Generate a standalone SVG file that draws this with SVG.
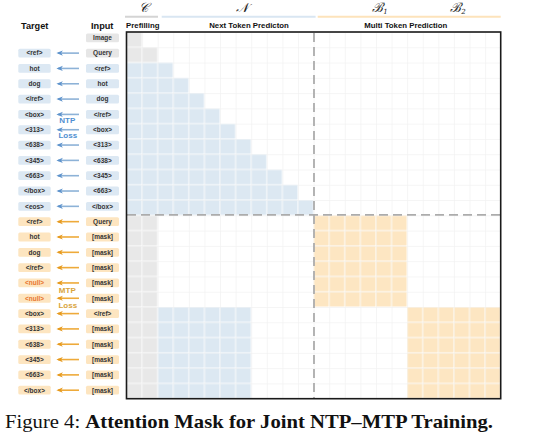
<svg xmlns="http://www.w3.org/2000/svg" width="558" height="440" viewBox="0 0 558 440">
<style>
.hd{font-family:"Liberation Sans",Arial,sans-serif;font-weight:bold;font-size:9.2px;fill:#111;text-anchor:middle}
.sec{font-family:"Liberation Sans",Arial,sans-serif;font-weight:bold;font-size:7.8px;fill:#111;text-anchor:middle}
.math{font-family:"DejaVu Serif","Liberation Serif",serif;font-style:italic;font-size:13px;fill:#222;text-anchor:middle}
.lb{font-family:"Liberation Sans",Arial,sans-serif;font-weight:bold;font-size:6.5px;fill:#333;text-anchor:middle}
.nul{fill:#e8772e}
.bb{fill:#dce8f3}
.gb{fill:#e6e6e6}
.ob{fill:#fde5c0}
.ntp{font-family:"Liberation Sans",Arial,sans-serif;font-weight:bold;font-size:8px;fill:#4f8fd1;text-anchor:middle}
.mtp{font-family:"Liberation Sans",Arial,sans-serif;font-weight:bold;font-size:8px;fill:#d9a43c;text-anchor:middle}
.ab{stroke:#8db2d7;stroke-width:1.6;fill:none}
.ao{stroke:#eeaa3a;stroke-width:1.6;fill:none}
.dash{stroke:#acacac;stroke-width:1.8;stroke-dasharray:9 5;fill:none}
.cap{font-family:"Liberation Serif","Times New Roman",serif;font-size:19.5px;fill:#111}
</style>
<defs>
<pattern id="pg" patternUnits="userSpaceOnUse" x="126.5" y="32" width="15.592" height="15.279">
<path d="M0,0.3H15.592M0.3,0V15.279" stroke="#f1f1f1" stroke-width="0.8" fill="none"/>
</pattern>
<pattern id="pBlue" patternUnits="userSpaceOnUse" x="126.5" y="32" width="15.592" height="15.279">
<rect x="0.5" y="0.5" width="14.592" height="14.279" fill="#dce8f2"/>
</pattern>
<pattern id="pGray" patternUnits="userSpaceOnUse" x="126.5" y="32" width="15.592" height="15.279">
<rect x="0.5" y="0.5" width="14.592" height="14.279" fill="#e8e8e8"/>
</pattern>
<pattern id="pOr" patternUnits="userSpaceOnUse" x="126.5" y="32" width="15.592" height="15.279">
<rect x="0.5" y="0.5" width="14.592" height="14.279" fill="#fde6c2"/>
</pattern>
<marker id="mb" viewBox="0 0 8 8" refX="6" refY="4" markerWidth="6.5" markerHeight="6.5" markerUnits="userSpaceOnUse" orient="auto">
<path d="M0,0.8 L8,4 L0,7.2 L2.2,4 Z" fill="#5e93cc"/>
</marker>
<marker id="mo" viewBox="0 0 8 8" refX="6" refY="4" markerWidth="6.5" markerHeight="6.5" markerUnits="userSpaceOnUse" orient="auto">
<path d="M0,0.8 L8,4 L0,7.2 L2.2,4 Z" fill="#e69a1e"/>
</marker>
</defs>
<rect width="558" height="440" fill="#fff"/>

<g id="headers">
<text class="math" x="143" y="12">𝒞</text>
<text class="math" x="241.5" y="12">𝒩</text>
<text class="math" x="380" y="12">ℬ<tspan font-size="7" dy="2">1</tspan></text>
<text class="math" x="458" y="12">ℬ<tspan font-size="7" dy="2">2</tspan></text>
<line x1="125" y1="16.7" x2="158" y2="16.7" stroke="#d4d4d4" stroke-width="2"/>
<line x1="161.7" y1="16.7" x2="315.6" y2="16.7" stroke="#d9e6f2" stroke-width="2"/>
<line x1="317.7" y1="16.7" x2="500.7" y2="16.7" stroke="#fde3bb" stroke-width="2"/>
<text class="hd" x="34.7" y="28.7">Target</text>
<text class="hd" x="102.2" y="28.7">Input</text>
<text class="sec" x="142.8" y="28.3">Prefilling</text>
<text class="sec" x="249" y="28.3">Next Token Predicton</text>
<text class="sec" x="405.8" y="28.3">Multi Token Prediction</text>
</g>

<g id="matrix">
<rect x="126.5" y="32" width="374.2" height="366.7" fill="url(#pg)"/>
<path d="M126.5,32H142.09V47.28H157.68V62.56H126.5Z" fill="url(#pGray)"/>
<path d="M126.5,62.56H173.28V77.84H188.87V93.12H204.46V108.40H220.05V123.67H235.64V138.95H251.24V154.23H266.83V169.51H282.42V184.79H298.01V200.07H313.60V215.35H126.5Z" fill="url(#pBlue)"/>
<rect x="126.5" y="215.35" width="31.18" height="183.35" fill="url(#pGray)"/>
<rect x="313.6" y="215.35" width="93.56" height="91.67" fill="url(#pOr)"/>
<rect x="157.68" y="307.02" width="93.56" height="91.68" fill="url(#pBlue)"/>
<rect x="407.16" y="307.02" width="93.55" height="91.68" fill="url(#pOr)"/>
<line class="dash" x1="314" y1="33" x2="314" y2="398"/>
<line class="dash" x1="127" y1="214.8" x2="500" y2="214.8"/>
<rect x="126.5" y="32" width="374.2" height="366.7" fill="none" stroke="#1a1a1a" stroke-width="1.6"/>
</g>

<g id="connectors">
<line class="ab" x1="79" y1="53.12" x2="58" y2="53.12" marker-end="url(#mb)"/>
<line class="ab" x1="79" y1="68.44" x2="58" y2="68.44" marker-end="url(#mb)"/>
<line class="ab" x1="79" y1="83.77" x2="58" y2="83.77" marker-end="url(#mb)"/>
<line class="ab" x1="79" y1="99.09" x2="58" y2="99.09" marker-end="url(#mb)"/>
<line class="ab" x1="79" y1="114.41" x2="58" y2="114.41" marker-end="url(#mb)"/>
<line class="ab" x1="79" y1="129.73" x2="58" y2="129.73" marker-end="url(#mb)"/>
<line class="ab" x1="79" y1="145.05" x2="58" y2="145.05" marker-end="url(#mb)"/>
<line class="ab" x1="79" y1="160.38" x2="58" y2="160.38" marker-end="url(#mb)"/>
<line class="ab" x1="79" y1="175.70" x2="58" y2="175.70" marker-end="url(#mb)"/>
<line class="ab" x1="79" y1="191.02" x2="58" y2="191.02" marker-end="url(#mb)"/>
<line class="ab" x1="79" y1="206.34" x2="58" y2="206.34" marker-end="url(#mb)"/>
<line class="ao" x1="79" y1="221.66" x2="58" y2="221.66" marker-end="url(#mo)"/>
<line class="ao" x1="79" y1="236.99" x2="58" y2="236.99" marker-end="url(#mo)"/>
<line class="ao" x1="79" y1="252.31" x2="58" y2="252.31" marker-end="url(#mo)"/>
<line class="ao" x1="79" y1="267.63" x2="58" y2="267.63" marker-end="url(#mo)"/>
<line class="ao" x1="79" y1="282.95" x2="58" y2="282.95" marker-end="url(#mo)"/>
<line class="ao" x1="79" y1="298.27" x2="58" y2="298.27" marker-end="url(#mo)"/>
<line class="ao" x1="79" y1="313.60" x2="58" y2="313.60" marker-end="url(#mo)"/>
<line class="ao" x1="79" y1="328.92" x2="58" y2="328.92" marker-end="url(#mo)"/>
<line class="ao" x1="79" y1="344.24" x2="58" y2="344.24" marker-end="url(#mo)"/>
<line class="ao" x1="79" y1="359.56" x2="58" y2="359.56" marker-end="url(#mo)"/>
<line class="ao" x1="79" y1="374.88" x2="58" y2="374.88" marker-end="url(#mo)"/>
<line class="ao" x1="79" y1="390.21" x2="58" y2="390.21" marker-end="url(#mo)"/>
<text class="ntp" x="67.3" y="123.3">NTP</text>
<text class="ntp" x="67.8" y="138.3">Loss</text>
<text class="mtp" x="67.3" y="292.7">MTP</text>
<text class="mtp" x="67.8" y="307.5">Loss</text>
</g>

<g id="inputs">
<g id="in0" transform="translate(102.5,37.80)"><rect class="gb" x="-16.5" y="-4.4" width="33" height="8.8" rx="1.5"/><text class="lb" y="2.3">Image</text></g>
<g id="in1" transform="translate(102.5,53.12)"><rect class="gb" x="-16.5" y="-4.4" width="33" height="8.8" rx="1.5"/><text class="lb" y="2.3">Query</text></g>
<g id="in2" transform="translate(102.5,68.44)"><rect class="bb" x="-16.5" y="-4.4" width="33" height="8.8" rx="1.5"/><text class="lb" y="2.3">&lt;ref&gt;</text></g>
<g id="in3" transform="translate(102.5,83.77)"><rect class="bb" x="-16.5" y="-4.4" width="33" height="8.8" rx="1.5"/><text class="lb" y="2.3">hot</text></g>
<g id="in4" transform="translate(102.5,99.09)"><rect class="bb" x="-16.5" y="-4.4" width="33" height="8.8" rx="1.5"/><text class="lb" y="2.3">dog</text></g>
<g id="in5" transform="translate(102.5,114.41)"><rect class="bb" x="-16.5" y="-4.4" width="33" height="8.8" rx="1.5"/><text class="lb" y="2.3">&lt;/ref&gt;</text></g>
<g id="in6" transform="translate(102.5,129.73)"><rect class="bb" x="-16.5" y="-4.4" width="33" height="8.8" rx="1.5"/><text class="lb" y="2.3">&lt;box&gt;</text></g>
<g id="in7" transform="translate(102.5,145.05)"><rect class="bb" x="-16.5" y="-4.4" width="33" height="8.8" rx="1.5"/><text class="lb" y="2.3">&lt;313&gt;</text></g>
<g id="in8" transform="translate(102.5,160.38)"><rect class="bb" x="-16.5" y="-4.4" width="33" height="8.8" rx="1.5"/><text class="lb" y="2.3">&lt;638&gt;</text></g>
<g id="in9" transform="translate(102.5,175.70)"><rect class="bb" x="-16.5" y="-4.4" width="33" height="8.8" rx="1.5"/><text class="lb" y="2.3">&lt;345&gt;</text></g>
<g id="in10" transform="translate(102.5,191.02)"><rect class="bb" x="-16.5" y="-4.4" width="33" height="8.8" rx="1.5"/><text class="lb" y="2.3">&lt;663&gt;</text></g>
<g id="in11" transform="translate(102.5,206.34)"><rect class="bb" x="-16.5" y="-4.4" width="33" height="8.8" rx="1.5"/><text class="lb" y="2.3">&lt;/box&gt;</text></g>
<g id="in12" transform="translate(102.5,221.66)"><rect class="ob" x="-16.5" y="-4.4" width="33" height="8.8" rx="1.5"/><text class="lb" y="2.3">Query</text></g>
<g id="in13" transform="translate(102.5,236.99)"><rect class="ob" x="-16.5" y="-4.4" width="33" height="8.8" rx="1.5"/><text class="lb" y="2.3">[mask]</text></g>
<g id="in14" transform="translate(102.5,252.31)"><rect class="ob" x="-16.5" y="-4.4" width="33" height="8.8" rx="1.5"/><text class="lb" y="2.3">[mask]</text></g>
<g id="in15" transform="translate(102.5,267.63)"><rect class="ob" x="-16.5" y="-4.4" width="33" height="8.8" rx="1.5"/><text class="lb" y="2.3">[mask]</text></g>
<g id="in16" transform="translate(102.5,282.95)"><rect class="ob" x="-16.5" y="-4.4" width="33" height="8.8" rx="1.5"/><text class="lb" y="2.3">[mask]</text></g>
<g id="in17" transform="translate(102.5,298.27)"><rect class="ob" x="-16.5" y="-4.4" width="33" height="8.8" rx="1.5"/><text class="lb" y="2.3">[mask]</text></g>
<g id="in18" transform="translate(102.5,313.60)"><rect class="ob" x="-16.5" y="-4.4" width="33" height="8.8" rx="1.5"/><text class="lb" y="2.3">&lt;/ref&gt;</text></g>
<g id="in19" transform="translate(102.5,328.92)"><rect class="ob" x="-16.5" y="-4.4" width="33" height="8.8" rx="1.5"/><text class="lb" y="2.3">[mask]</text></g>
<g id="in20" transform="translate(102.5,344.24)"><rect class="ob" x="-16.5" y="-4.4" width="33" height="8.8" rx="1.5"/><text class="lb" y="2.3">[mask]</text></g>
<g id="in21" transform="translate(102.5,359.56)"><rect class="ob" x="-16.5" y="-4.4" width="33" height="8.8" rx="1.5"/><text class="lb" y="2.3">[mask]</text></g>
<g id="in22" transform="translate(102.5,374.88)"><rect class="ob" x="-16.5" y="-4.4" width="33" height="8.8" rx="1.5"/><text class="lb" y="2.3">[mask]</text></g>
<g id="in23" transform="translate(102.5,390.21)"><rect class="ob" x="-16.5" y="-4.4" width="33" height="8.8" rx="1.5"/><text class="lb" y="2.3">[mask]</text></g>
</g>

<g id="targets">
<g id="tg1" transform="translate(34.5,53.12)"><rect class="bb" x="-16.2" y="-4.4" width="32.4" height="8.8" rx="1.5"/><text class="lb" y="2.3">&lt;ref&gt;</text></g>
<g id="tg2" transform="translate(34.5,68.44)"><rect class="bb" x="-16.2" y="-4.4" width="32.4" height="8.8" rx="1.5"/><text class="lb" y="2.3">hot</text></g>
<g id="tg3" transform="translate(34.5,83.77)"><rect class="bb" x="-16.2" y="-4.4" width="32.4" height="8.8" rx="1.5"/><text class="lb" y="2.3">dog</text></g>
<g id="tg4" transform="translate(34.5,99.09)"><rect class="bb" x="-16.2" y="-4.4" width="32.4" height="8.8" rx="1.5"/><text class="lb" y="2.3">&lt;/ref&gt;</text></g>
<g id="tg5" transform="translate(34.5,114.41)"><rect class="bb" x="-16.2" y="-4.4" width="32.4" height="8.8" rx="1.5"/><text class="lb" y="2.3">&lt;box&gt;</text></g>
<g id="tg6" transform="translate(34.5,129.73)"><rect class="bb" x="-16.2" y="-4.4" width="32.4" height="8.8" rx="1.5"/><text class="lb" y="2.3">&lt;313&gt;</text></g>
<g id="tg7" transform="translate(34.5,145.05)"><rect class="bb" x="-16.2" y="-4.4" width="32.4" height="8.8" rx="1.5"/><text class="lb" y="2.3">&lt;638&gt;</text></g>
<g id="tg8" transform="translate(34.5,160.38)"><rect class="bb" x="-16.2" y="-4.4" width="32.4" height="8.8" rx="1.5"/><text class="lb" y="2.3">&lt;345&gt;</text></g>
<g id="tg9" transform="translate(34.5,175.70)"><rect class="bb" x="-16.2" y="-4.4" width="32.4" height="8.8" rx="1.5"/><text class="lb" y="2.3">&lt;663&gt;</text></g>
<g id="tg10" transform="translate(34.5,191.02)"><rect class="bb" x="-16.2" y="-4.4" width="32.4" height="8.8" rx="1.5"/><text class="lb" y="2.3">&lt;/box&gt;</text></g>
<g id="tg11" transform="translate(34.5,206.34)"><rect class="bb" x="-16.2" y="-4.4" width="32.4" height="8.8" rx="1.5"/><text class="lb" y="2.3">&lt;eos&gt;</text></g>
<g id="tg12" transform="translate(34.5,221.66)"><rect class="ob" x="-16.2" y="-4.4" width="32.4" height="8.8" rx="1.5"/><text class="lb" y="2.3">&lt;ref&gt;</text></g>
<g id="tg13" transform="translate(34.5,236.99)"><rect class="ob" x="-16.2" y="-4.4" width="32.4" height="8.8" rx="1.5"/><text class="lb" y="2.3">hot</text></g>
<g id="tg14" transform="translate(34.5,252.31)"><rect class="ob" x="-16.2" y="-4.4" width="32.4" height="8.8" rx="1.5"/><text class="lb" y="2.3">dog</text></g>
<g id="tg15" transform="translate(34.5,267.63)"><rect class="ob" x="-16.2" y="-4.4" width="32.4" height="8.8" rx="1.5"/><text class="lb" y="2.3">&lt;/ref&gt;</text></g>
<g id="tg16" transform="translate(34.5,282.95)"><rect class="ob" x="-16.2" y="-4.4" width="32.4" height="8.8" rx="1.5"/><text class="lb nul" y="2.3">&lt;null&gt;</text></g>
<g id="tg17" transform="translate(34.5,298.27)"><rect class="ob" x="-16.2" y="-4.4" width="32.4" height="8.8" rx="1.5"/><text class="lb nul" y="2.3">&lt;null&gt;</text></g>
<g id="tg18" transform="translate(34.5,313.60)"><rect class="ob" x="-16.2" y="-4.4" width="32.4" height="8.8" rx="1.5"/><text class="lb" y="2.3">&lt;box&gt;</text></g>
<g id="tg19" transform="translate(34.5,328.92)"><rect class="ob" x="-16.2" y="-4.4" width="32.4" height="8.8" rx="1.5"/><text class="lb" y="2.3">&lt;313&gt;</text></g>
<g id="tg20" transform="translate(34.5,344.24)"><rect class="ob" x="-16.2" y="-4.4" width="32.4" height="8.8" rx="1.5"/><text class="lb" y="2.3">&lt;638&gt;</text></g>
<g id="tg21" transform="translate(34.5,359.56)"><rect class="ob" x="-16.2" y="-4.4" width="32.4" height="8.8" rx="1.5"/><text class="lb" y="2.3">&lt;345&gt;</text></g>
<g id="tg22" transform="translate(34.5,374.88)"><rect class="ob" x="-16.2" y="-4.4" width="32.4" height="8.8" rx="1.5"/><text class="lb" y="2.3">&lt;663&gt;</text></g>
<g id="tg23" transform="translate(34.5,390.21)"><rect class="ob" x="-16.2" y="-4.4" width="32.4" height="8.8" rx="1.5"/><text class="lb" y="2.3">&lt;/box&gt;</text></g>
</g>

<text class="cap" x="5" y="428" textLength="488" lengthAdjust="spacingAndGlyphs">Figure 4: <tspan font-weight="bold">Attention Mask for Joint NTP–MTP Training.</tspan></text>
</svg>
